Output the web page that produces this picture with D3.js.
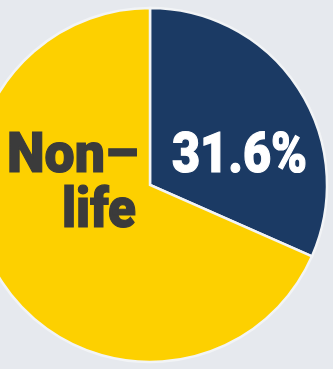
<!DOCTYPE html>
<html><head><meta charset="utf-8">
<script src="https://cdn.jsdelivr.net/npm/d3@7"></script>
<style>html,body{margin:0;padding:0;background:#e6e9ee;}svg{display:block;}</style>
</head><body>
<svg id="c" width="333" height="369"></svg>
<script>
const categories = ["Non-life", "Other"];
const values = [31.6, 68.4];
const colors = ["#1b3a64", "#fdd000"];
const labelValue = "31.6%";
const labelLines = ["Non–", "life"];

const svg = d3.select("#c");
const cx = 150, cy = 185, r = 177;
const pie = d3.pie().sort(null).value(d => d)(values);
const arc = d3.arc().innerRadius(0).outerRadius(r);
const g = svg.append("g").attr("transform", `translate(${cx},${cy})`);
g.selectAll("path").data(pie).join("path")
  .attr("d", arc).attr("fill", (d, i) => colors[i])
  .attr("stroke", "#f2f4f6").attr("stroke-width", 2.5).attr("stroke-linejoin", "miter");

const font = "Roboto, 'Liberation Sans', sans-serif";
function label(x, y, txt, fill, len) {
  svg.append("text").attr("x", x).attr("y", y)
    .attr("font-family", font).attr("font-weight", 900).attr("font-size", 55)
    .attr("fill", fill).attr("stroke", fill).attr("stroke-width", 1.2)
    .attr("textLength", len).attr("lengthAdjust", "spacingAndGlyphs")
    .text(txt);
}
label(172, 172, labelValue, "#ffffff", 135);
label(7, 172, labelLines[0], "#3b3b3b", 131);
label(62, 227, labelLines[1], "#3b3b3b", 74);
</script>
</body></html>
